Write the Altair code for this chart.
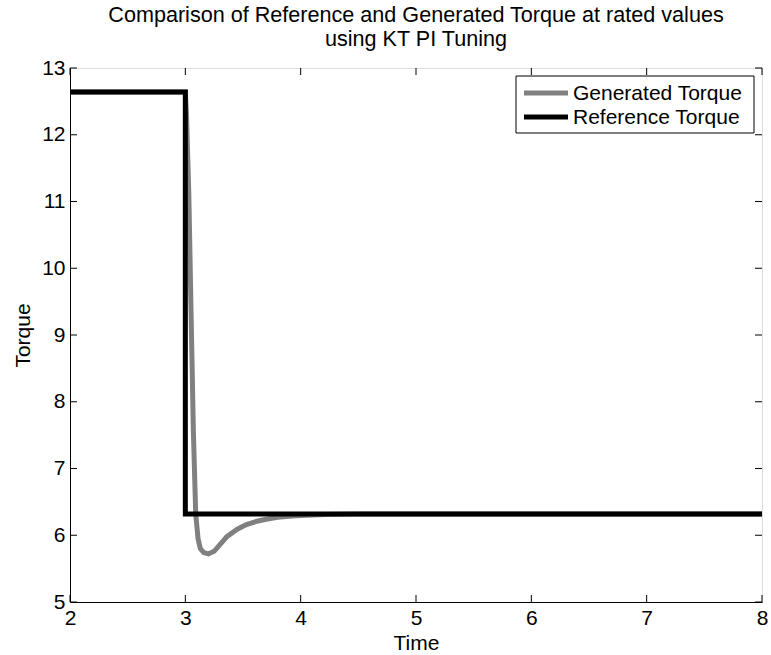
import altair as alt
import pandas as pd

# ---- data ----
ref_t = [2.0, 3.0, 3.0, 8.0]
ref_v = [12.64, 12.64, 6.32, 6.32]

gen_t = [2.0, 3.0, 3.01, 3.03, 3.05, 3.07, 3.09, 3.11, 3.13, 3.16, 3.20, 3.25,
         3.30, 3.36, 3.45, 3.53, 3.62, 3.70, 3.80, 3.93, 4.05, 4.22, 4.50, 8.0]
gen_v = [12.64, 12.64, 12.3, 11.13, 9.31, 7.54, 6.32, 5.95, 5.80, 5.74, 5.72, 5.76,
         5.86, 5.98, 6.09, 6.16, 6.21, 6.24, 6.27, 6.29, 6.30, 6.31, 6.32, 6.32]

x_ticks = [2, 3, 4, 5, 6, 7, 8]
y_ticks = [5, 6, 7, 8, 9, 10, 11, 12, 13]

series_names = ["Generated Torque", "Reference Torque"]
series_colors = ["#808080", "#000000"]

ref_df = pd.DataFrame({"Time": ref_t, "Torque": ref_v, "i": range(len(ref_t))})
gen_df = pd.DataFrame({"Time": gen_t, "Torque": gen_v, "i": range(len(gen_t))})

W, H = 692, 534
FONT = "Liberation Sans"
FS = 21
TICK = 7
LW = 5

xscale = alt.Scale(domain=[2, 8], nice=False, zero=False)
yscale = alt.Scale(domain=[5, 13], nice=False, zero=False)

x_enc = alt.X("Time:Q", scale=xscale,
              axis=alt.Axis(values=x_ticks, title="Time", grid=False, tickSize=0,
                            format="d",
                            labelFontSize=FS, titleFontSize=FS, labelFont=FONT,
                            titleFont=FONT, titleFontWeight="normal",
                            labelColor="black", titleColor="black",
                            domainColor="black", labelPadding=5, titlePadding=4,
                            labelFlush=False))
y_enc = alt.Y("Torque:Q", scale=yscale,
              axis=alt.Axis(values=y_ticks, title="Torque", grid=False, tickSize=0,
                            format="d",
                            labelFontSize=FS, titleFontSize=FS, labelFont=FONT,
                            titleFont=FONT, titleFontWeight="normal",
                            labelColor="black", titleColor="black",
                            domainColor="black", labelPadding=5, titlePadding=8,
                            labelFlush=False))

gen = alt.Chart(gen_df).mark_line(strokeWidth=LW, color=series_colors[0], clip=True).encode(
    x=x_enc, y=y_enc, order="i:Q")
ref = alt.Chart(ref_df).mark_line(strokeWidth=LW, color=series_colors[1],
                                  strokeJoin="miter", clip=True).encode(
    x=alt.X("Time:Q", scale=xscale), y=alt.Y("Torque:Q", scale=yscale), order="i:Q")

xt = pd.DataFrame({"v": x_ticks})
yt = pd.DataFrame({"v": y_ticks})
tick_style = dict(color="black", strokeWidth=1)
xb = alt.Chart(xt).mark_rule(**tick_style).encode(
    x=alt.X("v:Q", scale=xscale), y=alt.value(H), y2=alt.value(H - TICK))
xtop = alt.Chart(xt).mark_rule(**tick_style).encode(
    x=alt.X("v:Q", scale=xscale), y=alt.value(0), y2=alt.value(TICK))
yl = alt.Chart(yt).mark_rule(**tick_style).encode(
    y=alt.Y("v:Q", scale=yscale), x=alt.value(0), x2=alt.value(TICK))
yr = alt.Chart(yt).mark_rule(**tick_style).encode(
    y=alt.Y("v:Q", scale=yscale), x=alt.value(W), x2=alt.value(W - TICK))

# ---- legend (drawn as marks inside the plot box) ----
LX0, LX1, LY0, LY1 = 446, 684, 8, 65
row_y = [25, 49]
leg_df = pd.DataFrame({"Series": series_names})
leg_box = alt.Chart(leg_df.head(1)).mark_rect(fill="white", stroke="black",
                                              strokeWidth=1).encode(
    x=alt.value(LX0), x2=alt.value(LX1), y=alt.value(LY0), y2=alt.value(LY1))
leg_layers = [leg_box]
for k, name in enumerate(series_names):
    d = leg_df.iloc[[k]]
    leg_layers.append(alt.Chart(d).mark_rule(color=series_colors[k], strokeWidth=LW).encode(
        x=alt.value(454), x2=alt.value(498), y=alt.value(row_y[k])))
    leg_layers.append(alt.Chart(d).mark_text(align="left", baseline="middle", font=FONT,
                                             fontSize=FS, color="black", dy=1).encode(
        x=alt.value(503), y=alt.value(row_y[k]), text="Series:N"))

chart = alt.layer(xb, xtop, yl, yr, gen, ref, *leg_layers).properties(
    width=W, height=H,
    title=alt.TitleParams(
        ["Comparison of Reference and Generated Torque at rated values",
         "using KT PI Tuning"],
        font=FONT, fontSize=21.6, fontWeight="normal", color="black",
        anchor="middle", offset=6, lineHeight=24),
    autosize=alt.AutoSizeParams(type="none"),
    padding={"left": 70, "top": 68, "right": 9, "bottom": 53},
).configure_view(stroke="black", strokeWidth=1).configure(background="white")

chart.save("out.html", embed_options={"renderer": "svg", "actions": False})
